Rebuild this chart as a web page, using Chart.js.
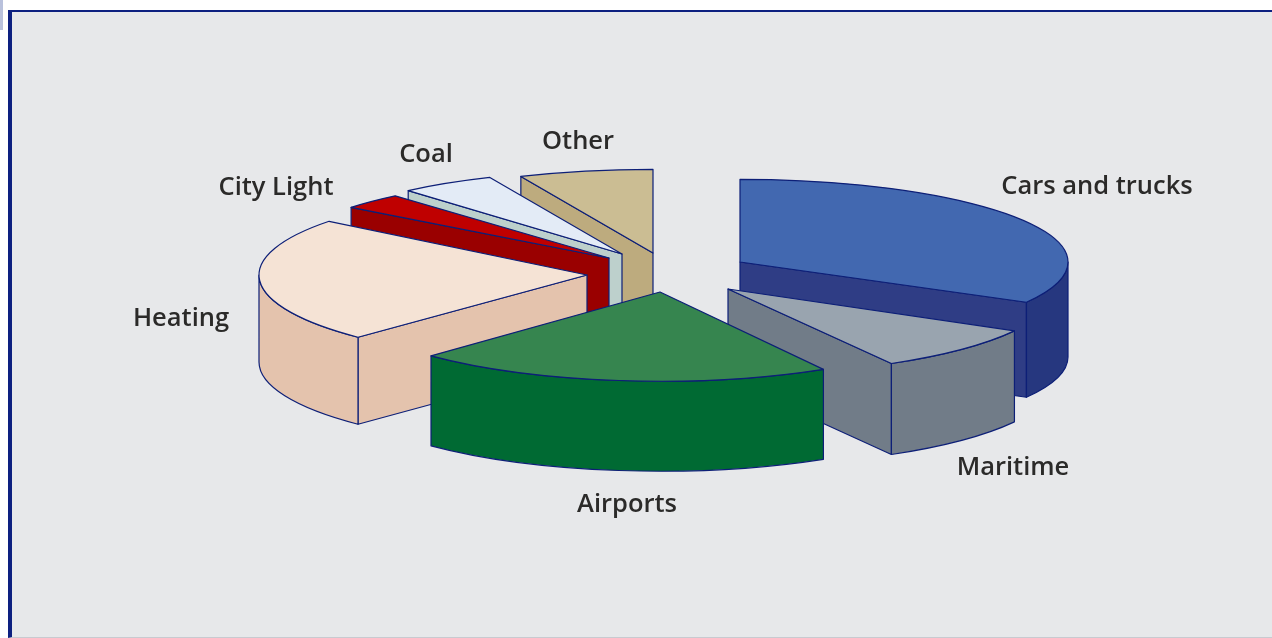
<!DOCTYPE html>
<html>
<head>
    <meta charset="UTF-8">
    <title>Exploded 3D pie</title>
    <script src="https://cdn.jsdelivr.net/npm/chart.js"></script>
    <style>
        html, body { margin: 0; padding: 0; background: #fff; overflow: hidden; }
        #strip { position: absolute; left: 0; top: 0; width: 3px; height: 30px; background: #b9c1dc; }
        #panel {
            position: absolute; left: 8px; top: 10px; right: 0; bottom: 0;
            background: #e7e8ea;
            border-left: 4px solid #0d2080;
            border-top: 2px solid #0d2080;
            border-bottom: 1px solid #c8cad0;
        }
        #pie { position: absolute; left: 0; top: 0; }
    </style>
</head>
<body>
    <div id="strip"></div>
    <div id="panel"></div>
    <canvas id="pie" width="1272" height="638"></canvas>
    <script>
        const categories = ['Cars and trucks', 'Maritime', 'Airports', 'Heating', 'City Light', 'Coal', 'Other'];
        const shares = [33.1, 8.6, 20.6, 23.3, 3.1, 4.7, 6.6];

        const topColors = ['#4268b0', '#99a4af', '#36854f', '#f5e3d5', '#bf0000', '#e3ebf6', '#cbbd93'];
        const cutColors = ['#2f3d85', '#717c88', '#006a33', '#e4c3ad', '#9a0000', '#bdd0cc', '#bdab7e'];
        const wallColors = ['#26377f', '#717c88', '#006a33', '#e4c3ad', '#9a0000', '#bdd0cc', '#bdab7e'];

        // explosion of each slice from the chart centre, thickness and tilt
        const shiftX = [104, 92, 24, -49, -27, -14, 17];
        const shiftY = [-57, -30, -27, -44, -61, -65, -66];
        const depths = [95, 91, 90, 87, 90, 90, 90];
        const tilts = [0.252, 0.262, 0.272, 0.265, 0.25, 0.255, 0.255];
        const drawOrder = [6, 5, 4, 3, 0, 1, 2];

        const labelX = [1097, 1013, 627, 181, 276, 426, 578];
        const labelY = [187, 468, 505, 319, 188, 155, 142];

        const edgeColor = '#0d1f77';

        const pie3d = {
            id: 'pie3d',
            beforeDatasetDraw(chart, args) {
                const ctx = chart.ctx;
                const arcs = args.meta.data;
                ctx.lineWidth = 1.2;
                ctx.lineJoin = 'round';
                ctx.strokeStyle = edgeColor;
                drawOrder.forEach(i => {
                    const el = arcs[i];
                    const cx = el.x + shiftX[i];
                    const cy = el.y + shiftY[i];
                    const r = el.outerRadius;
                    const d = depths[i];
                    const squash = tilts[i];
                    const a0 = el.startAngle;
                    const a1 = el.endAngle;
                    const px = a => cx + r * Math.cos(a);
                    const py = a => cy + r * squash * Math.sin(a);

                    // straight cut faces, only the one turned to the viewer
                    const cuts = [];
                    if (Math.cos(a0) < -0.001) cuts.push(a0);
                    if (Math.cos(a1) > 0.001) cuts.push(a1);
                    cuts.forEach(a => {
                        ctx.beginPath();
                        ctx.moveTo(cx, cy);
                        ctx.lineTo(px(a), py(a));
                        ctx.lineTo(px(a), py(a) + d);
                        ctx.lineTo(cx, cy + d);
                        ctx.closePath();
                        ctx.fillStyle = cutColors[i];
                        ctx.fill();
                        ctx.stroke();
                    });

                    // outer wall, front half of the rim only
                    const lo = Math.max(a0, 0);
                    const hi = Math.min(a1, Math.PI);
                    if (lo < hi) {
                        ctx.beginPath();
                        ctx.ellipse(cx, cy, r, r * squash, 0, lo, hi);
                        ctx.ellipse(cx, cy + d, r, r * squash, 0, hi, lo, true);
                        ctx.closePath();
                        ctx.fillStyle = wallColors[i];
                        ctx.fill();
                        ctx.stroke();
                    }

                    // top face is the library's own arc, squashed flat
                    ctx.save();
                    ctx.translate(cx, cy);
                    ctx.scale(1, squash);
                    ctx.translate(-el.x, -el.y);
                    el.draw(ctx);
                    ctx.restore();

                    ctx.beginPath();
                    ctx.moveTo(cx, cy);
                    ctx.ellipse(cx, cy, r, r * squash, 0, a0, a1);
                    ctx.closePath();
                    ctx.stroke();
                });
                return false;
            },
            afterDraw(chart) {
                const ctx = chart.ctx;
                ctx.save();
                ctx.font = '600 25.5px "Open Sans"';
                ctx.fillStyle = '#2b2a29';
                ctx.textAlign = 'center';
                ctx.textBaseline = 'middle';
                categories.forEach((name, i) => ctx.fillText(name, labelX[i], labelY[i]));
                ctx.restore();
            }
        };

        new Chart(document.getElementById('pie'), {
            type: 'pie',
            data: {
                labels: categories,
                datasets: [{
                    data: shares,
                    backgroundColor: topColors,
                    borderWidth: 0
                }]
            },
            options: {
                responsive: false,
                animation: false,
                events: [],
                radius: 328,
                layout: { padding: 0 },
                plugins: { legend: { display: false }, tooltip: { enabled: false } }
            },
            plugins: [pie3d]
        });
    </script>
</body>
</html>
